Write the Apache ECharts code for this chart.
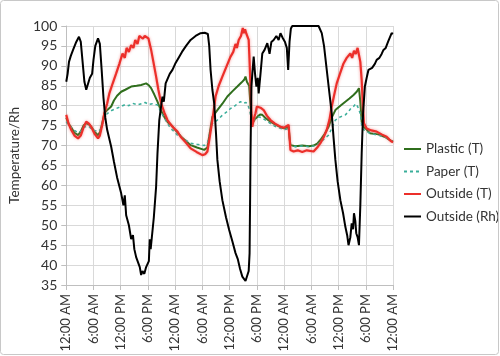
<!DOCTYPE html>
<html>
<head>
<meta charset="utf-8">
<script src="https://cdn.jsdelivr.net/npm/echarts@6/dist/echarts.min.js"></script>
<style>html,body{margin:0;padding:0;background:#fff}#c{width:500px;height:356px}</style>
</head>
<body>
<div id="c"></div>
<script>
// x values are hours since the first 12:00 AM
const tickLabels = ["12:00 AM","6:00 AM","12:00 PM","6:00 PM","12:00 AM","6:00 AM","12:00 PM","6:00 PM","12:00 AM","6:00 AM","12:00 PM","6:00 PM","12:00 AM"];
const seriesNames = ["Plastic (T)","Paper (T)","Outside (T)","Outside (Rh)"];

const plasticHours = [0,0.5,1.1,1.8,2.6,3.2,3.8,4.4,5.0,5.5,6.2,7.0,7.5,8.0,8.4,9.1,9.9,10.5,11.2,12.1,13.0,14.3,15.5,16.5,17.6,18.1,18.7,19.4,20.1,20.8,21.6,22.4,23.0,23.8,24.6,25.5,26.5,27.4,28.8,30.4,31.1,31.6,32.2,32.6,33.3,34.4,35.5,36.6,37.7,38.6,39.2,39.5,39.8,40.3,40.6,41.0,41.5,42.1,42.7,43.2,44.0,45.0,46.0,47.2,48.0,49.0,49.2,49.4,50.5,52.0,53.5,54.5,55.3,56.0,57.0,57.8,58.5,59.3,60.4,61.5,62.4,63.3,64.0,64.5,64.8,65.1,65.5,66.2,66.9,68.8,70.5,71.5,72];
const plasticValues = [77,75.5,74.5,73.2,72.6,73.5,75,75.6,75.3,74.7,73.5,72.6,73.5,76,78.1,79,79.8,81.3,82.5,83.5,84,84.8,85,85.2,85.6,85.2,84.4,82.8,81,79,77.2,75.8,75.3,74.2,73.2,72,71,70.1,69.5,68.9,69.5,73,77.2,77.8,78.9,80.5,82.3,83.6,84.8,85.8,86.5,87.3,86,85,80,75.6,76.5,77.2,77.8,77.7,76.8,76,75.3,74.6,74.3,74.6,72,70.1,69.8,70,69.8,70,70.5,71.4,73,74.7,77,78.9,80,81,81.8,82.7,83.5,84.4,81,76,74.7,74,73.1,72.8,72,71.2,71];

const paperHours = [0,0.5,1.1,1.8,2.6,3.2,3.8,4.4,5.0,5.5,6.2,7.0,7.5,8.0,8.6,9.1,10.0,11.0,12.1,13.0,13.8,14.6,15.7,16.6,17.4,18.2,19.0,20.1,20.6,21.4,22.3,23.0,23.8,24.5,25.5,26.5,27.4,28.8,30.4,31.1,31.6,32.2,32.6,33.3,34.3,35.2,36.2,37.0,37.6,38.4,39.0,39.6,40.0,40.4,40.8,41.5,42.4,43.0,44.0,45,46,47.2,48,49,49.2,49.4,50.5,52,53.5,54.5,55.3,56.0,57.0,57.8,58.5,59.3,60.4,61.5,62.2,62.7,63.3,63.8,64.2,64.5,64.8,65.1,65.5,66.2,67,68.8,70.5,71.5,72];
const paperValues = [76,75,74.5,73.8,73.2,73.6,74.5,74.8,74.8,74.2,73.8,73.5,74,75.5,77.5,78.1,78.8,79.3,79.8,80.3,80,80.6,80.2,80.5,80.8,80.3,80.5,80.2,79,77.3,75.6,74.3,73.5,72.6,71.9,71.2,70.6,70.3,70,70.5,73,75.5,75.8,76.4,77.5,78.3,79.3,79.8,80.4,81,80.6,80.8,80.2,79,76,76.5,77.2,77,76.3,75.5,74.8,74.3,74,74.2,72,70.1,69.7,69.9,69.7,69.9,70.2,70.8,71.8,72.6,74.3,76.4,77.2,77.7,78.5,79.3,79.8,80.5,79.8,80.2,78,75,74,73.5,73,72.6,72,71.3,71];

const outsideTHours = [0,0.5,1.1,1.8,2.6,3.2,3.8,4.4,5.0,5.5,6.2,7.0,7.4,7.9,8.4,9.0,9.5,10.2,11.0,11.7,12.4,12.9,13.3,13.8,14.3,14.8,15.2,15.7,16.1,16.5,16.9,17.3,17.7,18.1,18.4,18.7,19.2,19.8,20.3,20.9,21.6,22.3,23.0,23.8,24.5,25.2,26.3,27.4,28.7,30.0,30.6,31.1,31.6,32.2,32.9,33.6,34.4,35.3,36.2,36.8,37.3,37.6,38.0,38.5,38.9,39.1,39.4,39.7,40.0,40.2,40.4,40.6,40.8,41.0,41.3,41.7,42.0,42.4,42.8,43.5,44.2,45.0,46.0,47.2,48.0,49.0,49.2,49.4,50.1,51.0,52.0,53.0,54.5,55.3,56.0,56.7,57.4,58.0,58.5,59.0,59.6,60.3,61.1,61.8,62.6,63.0,63.4,63.8,64.2,64.5,64.8,65.1,65.4,65.6,66.2,67.2,68.4,69.5,70.6,71.2,71.7,72];
const outsideTValues = [77.7,75.5,73.9,72.5,71.8,72.5,74.5,76,75.5,74.7,73,71.8,72.5,75,78.1,80.5,83.1,85.5,88.1,90.5,93.1,92,94.5,93.5,95.2,94.5,96.5,95.5,97.5,97.7,96.8,97.5,97.2,96.9,95.5,94,91,87.3,84,80.6,78.3,76.4,75.3,74.3,73.5,72.2,70.8,69.3,68.4,67.6,67.8,68.5,72,76.4,82.3,85,87.3,89.8,92.3,93.5,95.5,94.5,96.5,97.5,99.5,98.2,99.2,98,97.5,96.5,91,84.8,78,74.7,76.5,78.1,79.8,80.2,79.5,78.9,77.5,76.4,75.5,74.7,74.5,75.2,72,68.9,68.5,68.8,68.4,68.8,68.5,69.5,70.6,72,73.9,76.5,79.8,82.5,85.6,88,90.6,92,93.1,92,93.8,93,94.5,94.4,91,86.4,79,75.6,74.3,73.8,73.5,72.8,72.2,71.5,71,70.8];

const outsideRhHours = [0,0.3,0.6,1.0,1.5,2.2,2.8,3.2,3.6,4.0,4.4,4.8,5.2,5.7,6.0,6.4,7.0,7.4,7.8,8.2,8.6,9.0,9.9,10.5,11.2,12.1,12.6,12.9,13.2,13.8,14.3,14.7,15.0,15.4,15.7,16.2,16.5,16.8,17.2,17.6,17.9,18.2,18.4,18.6,18.9,19.3,19.8,20.1,20.5,20.8,21.2,21.5,21.9,22.3,22.8,23.4,24.0,24.9,25.5,26.4,27.4,28.5,29.6,30.5,31.2,31.5,31.8,32.2,32.6,33.0,33.3,33.8,34.4,35.2,35.9,36.6,37.3,37.8,38.3,38.8,39.2,39.5,39.9,40.2,40.4,40.5,40.6,40.8,41.0,41.3,41.6,41.9,42.2,42.4,42.8,43.2,43.7,44.3,44.8,45.2,45.7,46.3,46.8,47.2,47.7,48.2,48.6,48.9,49.2,49.5,49.8,55.6,56.0,56.3,56.8,57.4,57.9,58.5,58.9,59.3,59.8,60.4,61.0,61.5,61.9,62.2,62.6,62.9,63.2,63.4,63.7,63.9,64.2,64.5,64.8,65.1,65.4,65.8,66.2,66.6,67.4,68.0,68.4,69.0,69.5,69.9,70.4,70.9,71.3,71.7,72];
const outsideRhValues = [86,88,91,92.5,94,96,97.3,96,91,86,84,84.5,87,88,91.5,95,96.9,95.5,89,82,77,74,69.7,66,62,58,55,57.5,52.5,50,46.5,47.5,44,42,41.5,39.5,37.5,38.5,37.8,39.5,39,41,46.5,44,44.5,52,59.7,68,76.4,79,82.3,81,85.6,86,88,89,90.5,92.3,93.5,95,96.5,97.5,98.2,98.3,98,95,89,84,80.6,73,66.4,61,56.3,52,48.8,46,43,41.5,39,37.1,37.5,36,36.3,38.5,43,55,68,84.8,88,92.3,88,84.8,87,83.1,88,93.1,94,95.7,93,96,96.5,97.5,96.5,98.2,97,96,94.5,89,96,99.4,100,100,99.5,98.2,95,89,84,78.1,72,66.4,61,56.3,53,49.6,47.5,45,47,50.5,49,53,51,48,47,45,55,68,78,84.8,87,89,89.5,90.5,91.5,92,93,94,94.5,96,96.5,98.2,98];

function pairs(h, v) { return h.map((x, i) => [x, v[i]]); }

const FONT = 'Lato';
const chart = echarts.init(document.getElementById('c'));
chart.setOption({
  animation: false,
  backgroundColor: '#fff',
  textStyle: { fontFamily: FONT },
  graphic: [{
    type: 'rect', silent: true, z: 100,
    shape: { x: 0.5, y: 0.5, width: 498, height: 354, r: 3 },
    style: { fill: 'none', stroke: '#c8c8c8', lineWidth: 1 }
  }],
  grid: { left: 65, right: 107, top: 26, bottom: 71, containLabel: false },
  legend: {
    orient: 'vertical', left: 398, top: 137,
    itemWidth: 17, itemHeight: 10, itemGap: 8.5,
    itemStyle: { opacity: 0 },
    textStyle: { fontSize: 13.5, color: '#333333', fontFamily: FONT },
    data: seriesNames
  },
  xAxis: {
    type: 'value', min: 0, max: 72, interval: 6,
    axisLine: { show: true, lineStyle: { color: '#bfbfbf' } },
    axisTick: { show: true, length: 5, lineStyle: { color: '#bfbfbf' } },
    splitLine: { show: true, lineStyle: { color: '#d9d9d9' } },
    axisLabel: {
      rotate: 90, margin: 9, fontSize: 13, color: '#333333', fontFamily: FONT,
      formatter: v => tickLabels[Math.round(v / 6)]
    }
  },
  yAxis: {
    type: 'value', min: 35, max: 100, interval: 5,
    name: 'Temperature/Rh', nameLocation: 'middle', nameGap: 37,
    nameTextStyle: { fontSize: 13.5, color: '#333333', fontFamily: FONT },
    axisLine: { show: true, lineStyle: { color: '#bfbfbf' } },
    axisTick: { show: true, length: 5, lineStyle: { color: '#bfbfbf' } },
    splitLine: { show: true, lineStyle: { color: '#d9d9d9' } },
    axisLabel: { margin: 9, fontSize: 14, color: '#333333', fontFamily: FONT }
  },
  series: [
    { name: seriesNames[0], type: 'line', symbol: 'none', data: pairs(plasticHours, plasticValues),
      lineStyle: { color: '#2f6e1c', width: 2 }, itemStyle: { color: '#2f6e1c' } },
    { name: seriesNames[1], type: 'line', symbol: 'none', data: pairs(paperHours, paperValues),
      lineStyle: { color: '#3aae9a', width: 1.5, type: [3, 3] }, itemStyle: { color: '#3aae9a' } },
    { name: seriesNames[2], type: 'line', symbol: 'none', data: pairs(outsideTHours, outsideTValues),
      lineStyle: { color: '#ec2f2a', width: 2.2, shadowColor: 'rgba(240,80,80,0.6)', shadowBlur: 3 }, itemStyle: { color: '#ec2f2a' } },
    { name: seriesNames[3], type: 'line', symbol: 'none', data: pairs(outsideRhHours, outsideRhValues),
      lineStyle: { color: '#000000', width: 2 }, itemStyle: { color: '#000000' } }
  ]
});
</script>
</body>
</html>
